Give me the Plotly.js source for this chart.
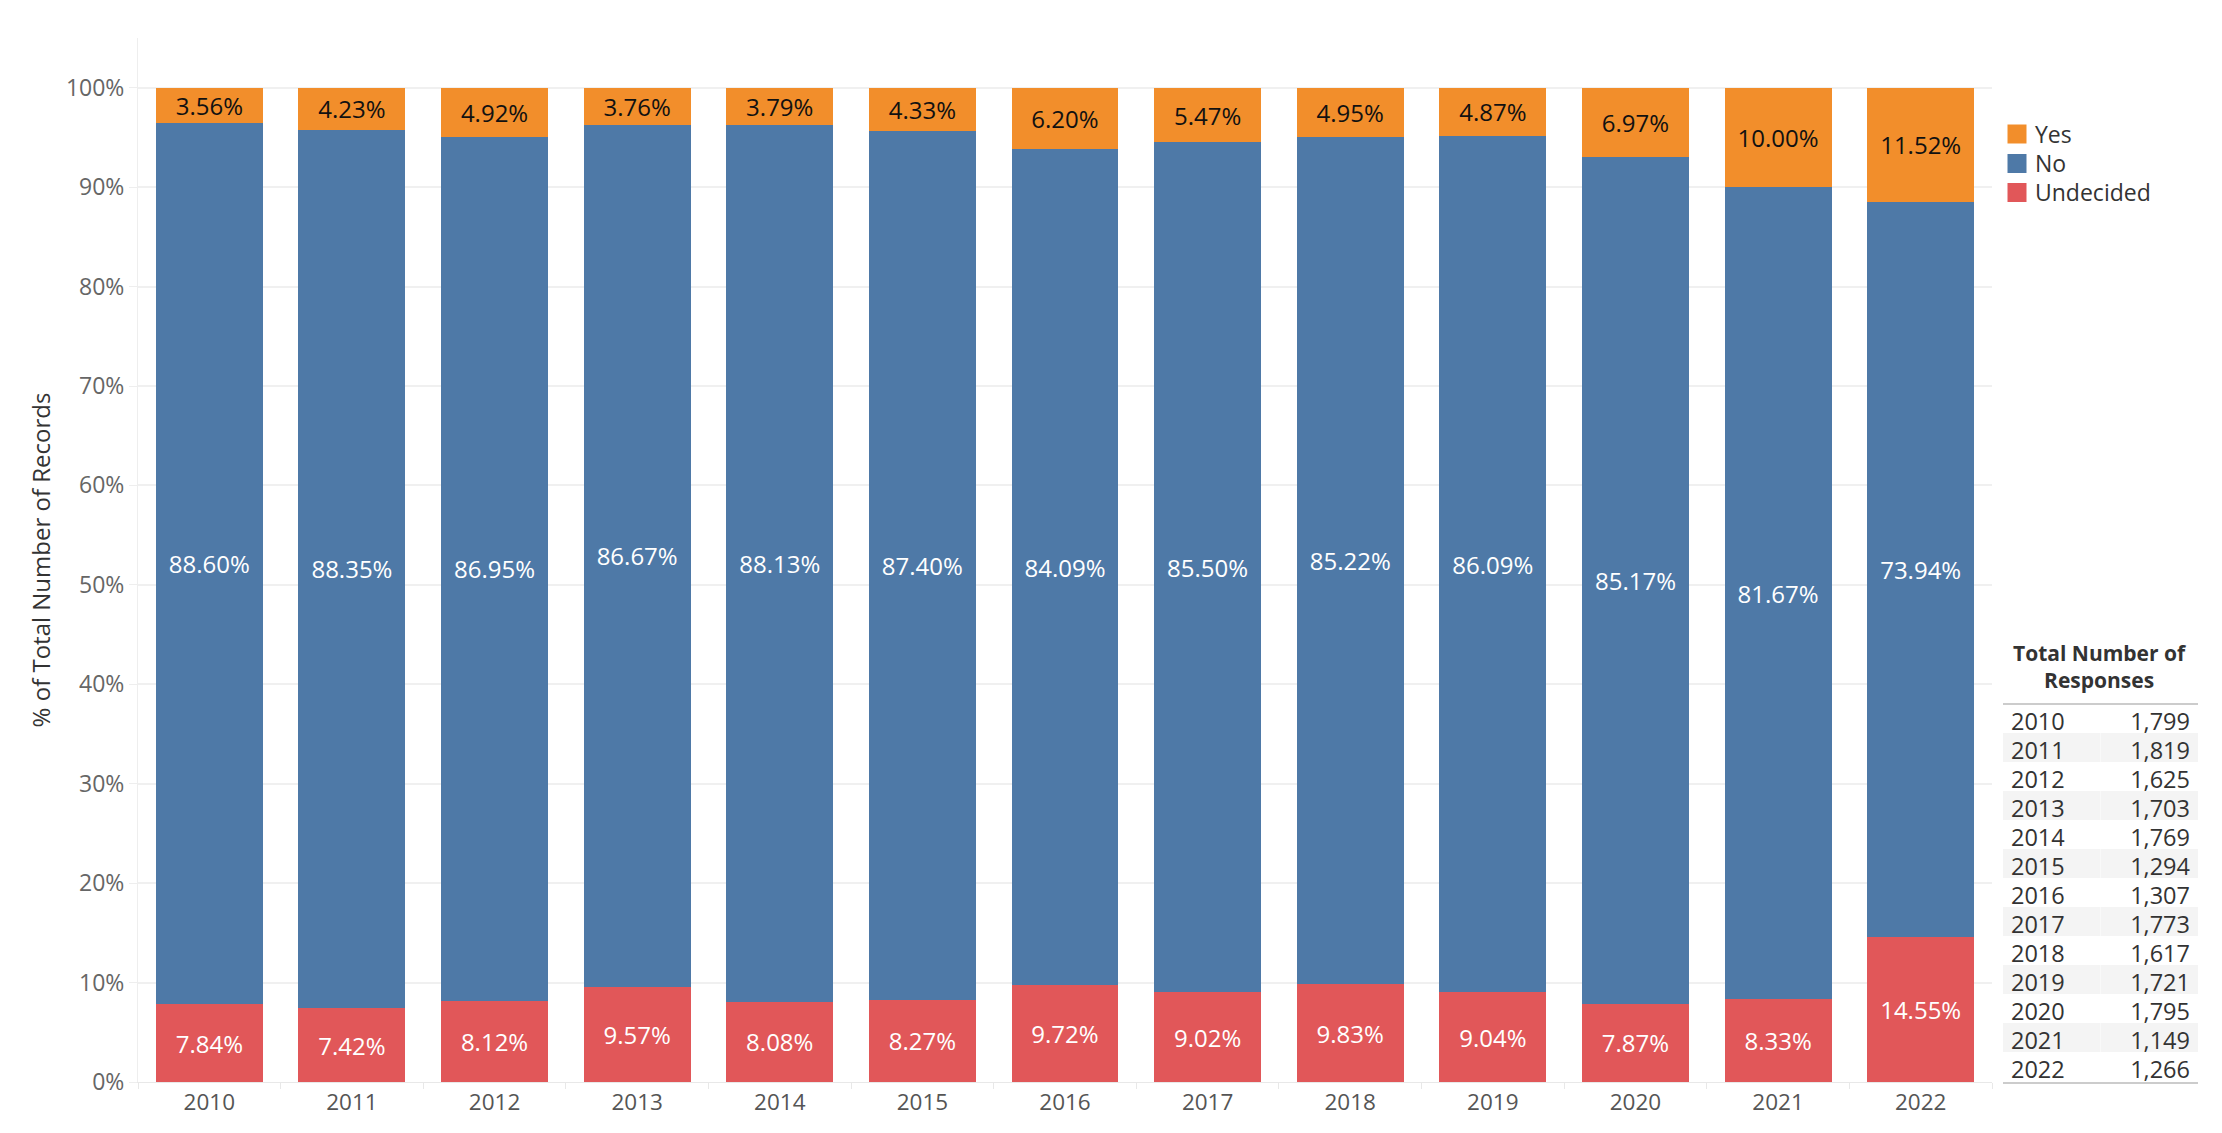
<!DOCTYPE html>
<html>
<head>
<meta charset="utf-8">
<script src="https://cdn.plot.ly/plotly-3.0.1.min.js"></script>
<style>html,body{margin:0;padding:0;background:#fff;}#chart{width:2222px;height:1133px;}</style>
</head>
<body>
<div id="chart"></div>
<script>
const years = ['2010','2011','2012','2013','2014','2015','2016','2017','2018','2019','2020','2021','2022'];
const yesPct = [3.56, 4.23, 4.92, 3.76, 3.79, 4.33, 6.20, 5.47, 4.95, 4.87, 6.97, 10.00, 11.52];
const noPct = [88.60, 88.35, 86.95, 86.67, 88.13, 87.40, 84.09, 85.50, 85.22, 86.09, 85.17, 81.67, 73.94];
const undecidedPct = [7.84, 7.42, 8.12, 9.57, 8.08, 8.27, 9.72, 9.02, 9.83, 9.04, 7.87, 8.33, 14.55];
const totalResponses = ['1,799','1,819','1,625','1,703','1,769','1,294','1,307','1,773','1,617','1,721','1,795','1,149','1,266'];
const yTicks = [0,10,20,30,40,50,60,70,80,90,100];
const legendNames = ['Yes', 'No', 'Undecided'];
const legendColors = ['#f28e2b', '#4e79a7', '#e15759'];

const FONT = '"Open Sans", "Noto Sans", sans-serif';
const fmt = v => v.toFixed(2) + '%';

// paper-coordinate helpers (margins l=20, r=20, t=38, b=51 on a 2222x1133 page)
const PX = px => (px - 20) / 2182;
const PY = py => (1082 - py) / 1044;

function barTrace(name, vals, color, textColor) {
  return {
    type: 'bar', name: name, x: years, y: vals,
    marker: {color: color, line: {width: 0}},
    text: vals.map(fmt), textposition: 'inside', insidetextanchor: 'middle',
    textangle: 0, constraintext: 'none',
    textfont: {family: FONT, size: 24, color: textColor},
    hoverinfo: 'x+y+name', showlegend: false
  };
}

const rowFill = years.map((y, i) => i % 2 === 1 ? '#f4f4f4' : '#ffffff');

const data = [
  barTrace('Undecided', undecidedPct, legendColors[2], '#ffffff'),
  barTrace('No', noPct, legendColors[1], '#ffffff'),
  barTrace('Yes', yesPct, legendColors[0], '#111111'),
  {
    type: 'table',
    domain: {x: [PX(2003), PX(2198)], y: [0, PY(632)]},
    columnwidth: [1, 1],
    header: {
      values: ['', ''], height: 72,
      fill: {color: 'rgba(0,0,0,0)'}, line: {color: 'rgba(0,0,0,0)', width: 0},
      font: {family: FONT, size: 21, color: '#333'}
    },
    cells: {
      values: [years, totalResponses], height: 29,
      align: ['left', 'right'],
      fill: {color: [rowFill, rowFill]},
      line: {color: 'rgba(0,0,0,0)', width: 0},
      font: {family: FONT, size: 23.5, color: '#333'}
    }
  }
];

const legendY = [134, 163.5, 192.5];
const shapes = [
  {type: 'line', xref: 'paper', yref: 'paper', x0: PX(2003), x1: PX(2198), y0: PY(704), y1: PY(704), line: {color: '#cccccc', width: 2}},
  {type: 'line', xref: 'paper', yref: 'paper', x0: PX(2003), x1: PX(2198), y0: PY(1083), y1: PY(1083), line: {color: '#cccccc', width: 2}}
];
const annotations = [{
  xref: 'paper', yref: 'paper', x: PX(2100), y: PY(666), xanchor: 'center', yanchor: 'middle',
  text: '<b>Total Number of</b><br><b>Responses</b>', showarrow: false, align: 'center',
  font: {family: FONT, size: 21, color: '#333'}
}];
legendNames.forEach(function (name, i) {
  shapes.push({type: 'rect', xref: 'paper', yref: 'paper',
    x0: PX(2007.5), x1: PX(2026.5), y0: PY(legendY[i] - 9.5), y1: PY(legendY[i] + 9.5),
    fillcolor: legendColors[i], line: {width: 0}});
  annotations.push({xref: 'paper', yref: 'paper', x: PX(2033), y: PY(legendY[i]),
    xanchor: 'left', yanchor: 'middle', text: name, showarrow: false,
    font: {family: FONT, size: 23, color: '#333'}});
});

const layout = {
  width: 2222, height: 1133,
  margin: {l: 20, r: 20, t: 38, b: 51},
  paper_bgcolor: '#fff', plot_bgcolor: '#fff',
  barmode: 'stack', bargap: 0.25,
  font: {family: FONT, color: '#555'},
  showlegend: false,
  xaxis: {
    domain: [PX(138), PX(1992)], type: 'category',
    showgrid: false, showline: true, linecolor: '#e8e8e8', linewidth: 1,
    ticks: 'outside', tickson: 'boundaries', ticklen: 6, tickcolor: '#e8e8e8',
    tickfont: {family: FONT, size: 22.5, color: '#555'}, fixedrange: true
  },
  yaxis: {
    range: [0, 105], tickvals: yTicks, ticktext: yTicks.map(v => v + '%'),
    showgrid: true, gridcolor: '#f0f0f0', gridwidth: 1.5, zeroline: false,
    showline: true, linecolor: '#eeeeee', linewidth: 1,
    ticks: 'outside', ticklen: 8, tickcolor: '#eeeeee',
    tickfont: {family: FONT, size: 23, color: '#666'},
    title: {text: '% of Total Number of Records', font: {family: FONT, size: 24, color: '#333'}, standoff: 8},
    fixedrange: true
  },
  annotations: annotations,
  shapes: shapes
};

Plotly.newPlot('chart', data, layout, {displayModeBar: false});
</script>
</body>
</html>
